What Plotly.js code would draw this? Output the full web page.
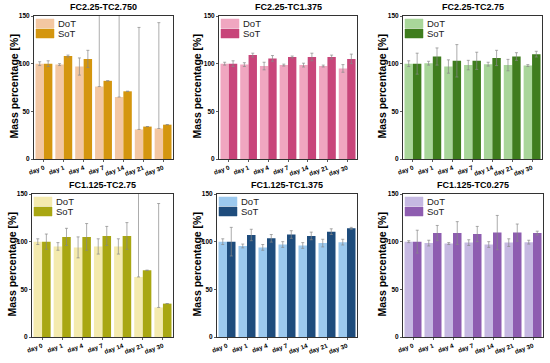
<!DOCTYPE html>
<html>
<head>
<meta charset="utf-8">
<script src="https://cdn.plot.ly/plotly-3.0.1.min.js"></script>
<style>html,body{margin:0;padding:0;background:#fff;}#chart{width:550px;height:363px;}</style>
</head>
<body>
<div id="chart"></div>
<script>
// ---- data ----
const days = ["day 0", "day 1", "day 4", "day 7", "day 14", "day 21", "day 30"];
const seriesNames = ["DoT", "SoT"];
const panelTitles = ["FC2.25-TC2.750", "FC2.25-TC1.375", "FC2.25-TC2.75", "FC1.125-TC2.75", "FC1.125-TC1.375", "FC1.125-TC0.275"];
const yTickVals = [0, 50, 100, 150];
const yAxisTitle = "Mass percentage [%]";

const p1DoT = [100, 99, 97, 76, 65, 31, 32];
const p1DoTErrPlus = [2, 1, 9, 90, 95, 107, 111];
const p1DoTErrMinus = [2, 1, 9, 0, 0, 0, 0];
const p1SoT = [100, 108, 105, 82, 71, 34, 36];
const p1SoTErr = [3, 1, 9, 0, 0, 0, 0];

const p2DoT = [100, 99, 97.5, 98.5, 98.5, 97.5, 95];
const p2DoTErr = [1.5, 2, 4, 1, 2, 1, 4];
const p2SoT = [100, 109, 105.5, 107, 107, 107, 105];
const p2SoTErr = [3, 2, 3, 1, 4, 2, 5];

const p3DoT = [100, 100.5, 97, 98.5, 99.5, 98.5, 98];
const p3DoTErr = [3, 2, 7, 5, 2, 6, 1];
const p3SoT = [100, 107.5, 103, 103, 106, 107.5, 110];
const p3SoTErr = [11, 9, 17, 9, 8, 4, 3];

const p4DoT = [100, 95, 94, 95, 95, 63, 31];
const p4DoTErrPlus = [3, 4, 11, 8, 8, 95, 109];
const p4DoTErrMinus = [3, 4, 11, 8, 8, 0, 0];
const p4SoT = [100, 105, 105, 106, 106, 70, 35];
const p4SoTErr = [8, 9, 14, 10, 14, 0, 0];

const p5DoT = [100, 95.5, 94, 97, 96, 98.5, 99.5];
const p5DoTErr = [3, 2, 3, 3, 3, 4, 3];
const p5SoT = [100, 107, 103.5, 107.5, 106, 110.5, 114];
const p5SoTErr = [15, 6, 4, 4, 4, 3, 1];

const p6DoT = [100, 98.5, 98, 99, 97, 99, 99.5];
const p6DoTErr = [1, 3, 1, 3, 3, 4, 2];
const p6SoT = [100, 109, 109, 108, 109.5, 109.5, 109];
const p6SoTErr = [12, 8, 12, 8, 18, 9, 2];

// ---- styling / layout ----
const W = 550, H = 363;
const FONT = "Arial, 'Liberation Sans', sans-serif";
const colors = [
  ["#F3C7A2", "#D4960F"],
  ["#F0A6C0", "#C8457A"],
  ["#A9D69A", "#3F7D1E"],
  ["#F4EAAE", "#A9A712"],
  ["#9CC9EE", "#1E4C7C"],
  ["#C6B9E2", "#8E5DB0"]
];
// plot boxes in pixels: [left, right, top, bottom]
const boxes = [
  [34, 173, 16, 159],
  [219, 357, 16, 159],
  [403, 542, 16, 159],
  [32, 173, 194, 337],
  [217, 357, 194, 337],
  [403, 543, 194, 337]
];
const ytitleX = [13, 196, 381, 11, 196, 381];

const panels = [
  {dot: p1DoT, dotP: p1DoTErrPlus, dotM: p1DoTErrMinus, sot: p1SoT, sotP: p1SoTErr, sotM: p1SoTErr},
  {dot: p2DoT, dotP: p2DoTErr, dotM: p2DoTErr, sot: p2SoT, sotP: p2SoTErr, sotM: p2SoTErr},
  {dot: p3DoT, dotP: p3DoTErr, dotM: p3DoTErr, sot: p3SoT, sotP: p3SoTErr, sotM: p3SoTErr},
  {dot: p4DoT, dotP: p4DoTErrPlus, dotM: p4DoTErrMinus, sot: p4SoT, sotP: p4SoTErr, sotM: p4SoTErr},
  {dot: p5DoT, dotP: p5DoTErr, dotM: p5DoTErr, sot: p5SoT, sotP: p5SoTErr, sotM: p5SoTErr},
  {dot: p6DoT, dotP: p6DoTErr, dotM: p6DoTErr, sot: p6SoT, sotP: p6SoTErr, sotM: p6SoTErr}
];

const px = x => x / W;
const py = y => 1 - y / H;

const data = [];
const layout = {
  width: W, height: H,
  margin: {l: 0, r: 0, t: 0, b: 0},
  paper_bgcolor: "#ffffff",
  plot_bgcolor: "#ffffff",
  showlegend: false,
  barmode: "group",
  bargap: 0.15,
  bargroupgap: 0,
  font: {family: FONT, color: "#000"},
  shapes: [],
  annotations: []
};

panels.forEach((p, i) => {
  const n = i + 1;
  const xa = "x" + (n === 1 ? "" : n);
  const ya = "y" + (n === 1 ? "" : n);
  const [L, R, T, B] = boxes[i];
  const vals = [[p.dot, p.dotP, p.dotM], [p.sot, p.sotP, p.sotM]];
  vals.forEach((v, k) => {
    data.push({
      type: "bar",
      x: days, y: v[0],
      name: seriesNames[k],
      xaxis: xa, yaxis: ya,
      marker: {color: colors[i][k], line: {width: 0}},
      error_y: {type: "data", symmetric: false, array: v[1], arrayminus: v[2],
                color: "#888", thickness: 0.7, width: 1.5},
      hoverinfo: "skip"
    });
  });
  layout["xaxis" + (n === 1 ? "" : n)] = {
    domain: [px(L), px(R)], anchor: ya,
    type: "category", range: [-0.5, 6.5],
    showline: true, mirror: true, linecolor: "#333", linewidth: 1,
    ticks: "outside", ticklen: 2, tickwidth: 0.8, tickcolor: "#333",
    tickangle: -20, tickfont: {size: 6.3, family: FONT, weight: "bold", color: "#000"},
    showgrid: false, zeroline: false, fixedrange: true
  };
  layout["yaxis" + (n === 1 ? "" : n)] = {
    domain: [py(B), py(T)], anchor: xa,
    range: [0, 150], tickvals: yTickVals,
    showline: true, mirror: true, linecolor: "#333", linewidth: 1,
    ticks: "outside", ticklen: 2, tickwidth: 0.8, tickcolor: "#333",
    tickfont: {size: 6.5, family: FONT, weight: "bold", color: "#000"},
    showgrid: false, zeroline: false, fixedrange: true
  };
  // panel title
  layout.annotations.push({
    xref: "paper", yref: "paper", x: px((L + R) / 2), y: py(T - 9),
    text: panelTitles[i], showarrow: false, xanchor: "center", yanchor: "middle",
    font: {size: 9, family: FONT, weight: "bold", color: "#000"}
  });
  // y-axis title
  layout.annotations.push({
    xref: "paper", yref: "paper", x: px(ytitleX[i]), y: py((T + B) / 2 - 1),
    text: yAxisTitle, showarrow: false, textangle: -90, xanchor: "center", yanchor: "middle",
    font: {size: 10.5, family: FONT, weight: "bold", color: "#000"}
  });
  // in-plot legend
  seriesNames.forEach((nm, k) => {
    const top = T + 3 + k * 10;
    layout.shapes.push({
      type: "rect", xref: "paper", yref: "paper",
      x0: px(L + 2), x1: px(L + 20), y0: py(top), y1: py(top + 9),
      fillcolor: colors[i][k], line: {width: 0.5, color: colors[i][k]}
    });
    layout.annotations.push({
      xref: "paper", yref: "paper", x: px(L + 22), y: py(top + 4.5),
      text: nm, showarrow: false, xanchor: "left", yanchor: "middle",
      font: {size: 9.5, family: FONT, color: "#222"}
    });
  });
});

Plotly.newPlot("chart", data, layout, {staticPlot: true, displayModeBar: false});
</script>
</body>
</html>
